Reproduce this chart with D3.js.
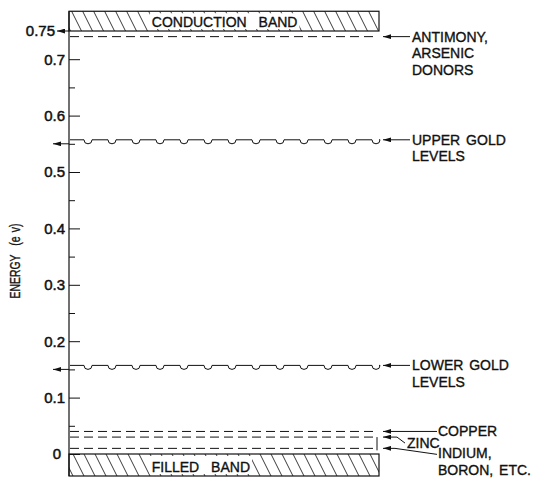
<!DOCTYPE html>
<html>
<head>
<meta charset="utf-8">
<script src="https://cdn.jsdelivr.net/npm/d3@7"></script>
<style>
    body { margin: 0; background: #fff; }
    svg { display: block; font-family: "Liberation Sans", Arial, sans-serif; }
    .tick text { font-size: 15px; fill: #111; stroke: #111; stroke-width: 0.5; }
    .lbl { font-size: 14px; fill: #111; stroke: #111; stroke-width: 0.35; word-spacing: 2px; }
</style>
</head>
<body>
<svg id="chart" width="535" height="479"></svg>
<script>
// energy levels in germanium (eV above top of filled band)
var tickValues = [0, 0.1, 0.2, 0.3, 0.4, 0.5, 0.6, 0.7];
var minorTicks = [0.05, 0.15, 0.25, 0.35, 0.45, 0.55, 0.65];
var conductionBand = [0.75, 0.785];
var filledBand = [-0.039, 0];

var dashedNames = ["ANTIMONY,|ARSENIC|DONORS", "COPPER", "ZINC", "INDIUM,|BORON, ETC."];
var dashedValues = [0.74, 0.04, 0.03, 0.01];

var goldNames = ["UPPER GOLD|LEVELS", "LOWER GOLD|LEVELS"];
var goldValues = [0.55, 0.15];

var svg = d3.select("#chart");

var y = d3.scaleLinear().domain([0, 0.75]).range([454, 31]);
var x = d3.scaleLinear().domain([0, 1]).range([69, 379]);

var defs = svg.append("defs");
defs.append("pattern")
    .attr("id", "hatch")
    .attr("patternUnits", "userSpaceOnUse")
    .attr("width", 11).attr("height", 22)
    .append("path")
    .attr("d", "M0,0L11,22M-11,0L0,22M11,0L22,22")
    .attr("stroke", "#222").attr("stroke-width", 0.9);
defs.append("marker")
    .attr("id", "arrow")
    .attr("viewBox", "0 0 10 6")
    .attr("refX", 10).attr("refY", 3)
    .attr("markerWidth", 8).attr("markerHeight", 5)
    .attr("markerUnits", "userSpaceOnUse")
    .attr("orient", "auto")
    .append("path").attr("d", "M0,0L10,3L0,6Z").attr("fill", "#111");

// bands
function band(vals, text, ty) {
    svg.append("rect")
        .attr("x", x(0)).attr("width", x(1) - x(0))
        .attr("y", y(vals[1])).attr("height", y(vals[0]) - y(vals[1]))
        .attr("fill", "url(#hatch)")
        .attr("stroke", "#111").attr("stroke-width", 1.2);
    var g = svg.append("g");
    var bg = g.append("rect").attr("fill", "#fff");
    var t = g.append("text").attr("class", "lbl")
        .attr("x", x(0.267)).attr("y", ty)
        .style("word-spacing", "8px")
        .text(text);
    var bb = t.node().getBBox();
    bg.attr("x", bb.x - 2).attr("width", bb.width + 4)
        .attr("y", y(vals[1]) + 2).attr("height", y(vals[0]) - y(vals[1]) - 4);
}
band(conductionBand, "CONDUCTION BAND", y(conductionBand[0]) - 4);
band(filledBand, "FILLED BAND", y(filledBand[1]) + 18);

// axis
var gy = svg.append("g").attr("transform", "translate(" + x(0) + ",0)");
gy.call(d3.axisLeft(y).tickValues(tickValues).tickSize(-11).tickSizeOuter(0).tickPadding(4)
    .tickFormat(function (d) { return d === 0 ? "0" : d3.format(".1f")(d); }));
gy.call(function (g) { g.select(".domain").remove(); });
gy.selectAll(".tick line").attr("stroke", "#111").attr("stroke-width", 1);
gy.selectAll(".tick text").attr("font-family", null).attr("font-size", null)
    .attr("dx", function (d) { return d === 0 ? -4 : 0; });
var gm = svg.append("g").attr("transform", "translate(" + x(0) + ",0)");
gm.call(d3.axisLeft(y).tickValues(minorTicks).tickSize(-6).tickSizeOuter(0).tickFormat(""));
gm.select(".domain").remove();
gm.selectAll(".tick line").attr("stroke", "#111");
svg.append("line")
    .attr("x1", x(0)).attr("x2", x(0))
    .attr("y1", y(conductionBand[1])).attr("y2", y(filledBand[0]))
    .attr("stroke", "#111").attr("stroke-width", 1.2);

// 0.75 label with arrow
svg.append("g").attr("class", "tick").append("text")
    .attr("x", x(0) - 14).attr("y", y(0.75)).attr("dy", "0.36em")
    .attr("text-anchor", "end").text("0.75");
function arrow(pts) {
    svg.append("path")
        .attr("d", d3.line()(pts))
        .attr("fill", "none").attr("stroke", "#111").attr("stroke-width", 1)
        .attr("marker-end", "url(#arrow)");
}
arrow([[x(0), y(0.75)], [x(0) - 12, y(0.75)]]);

function label(lines, lx, ly) {
    var t = svg.append("text").attr("class", "lbl").attr("x", lx).attr("y", ly);
    lines.split("|").forEach(function (s, i) {
        t.append("tspan").attr("x", lx).attr("dy", i ? 16.5 : 0).text(s);
    });
}

// dashed levels
dashedValues.forEach(function (v, i) {
    svg.append("line")
        .attr("x1", x(0) + 1).attr("x2", x(1) - 2)
        .attr("y1", y(v)).attr("y2", y(v))
        .attr("stroke", "#111").attr("stroke-width", 1)
        .attr("stroke-dasharray", "9,5");
});
var tip = x(1) + 4;
arrow([[x(1) + 31, y(dashedValues[0])], [tip, y(dashedValues[0])]]);
label(dashedNames[0], x(1) + 33, y(dashedValues[0]) + 5);
arrow([[x(1) + 58, y(dashedValues[1])], [tip, y(dashedValues[1])]]);
label(dashedNames[1], x(1) + 59, y(dashedValues[1]) + 5);
arrow([[x(1) + 26, y(dashedValues[2]) + 6], [x(1) + 18, y(dashedValues[2])], [tip, y(dashedValues[2])]]);
label(dashedNames[2], x(1) + 28, y(dashedValues[2]) + 11);
arrow([[x(1) + 58, y(dashedValues[3]) + 6], [x(1) + 16, y(dashedValues[3])], [tip, y(dashedValues[3])]]);
label(dashedNames[3], x(1) + 59, y(dashedValues[3]) + 10);
svg.append("line")
    .attr("x1", x(1) - 2).attr("x2", x(1) - 2)
    .attr("y1", y(dashedValues[2])).attr("y2", y(dashedValues[3]) + 2)
    .attr("stroke", "#111");

// gold levels (scalloped lines)
var dipCount = 13, r = 4;
goldValues.forEach(function (v, i) {
    var yf = y(v) - 4;
    var first = x(0) + 19, period = (x(1) - x(0) - 22) / (dipCount - 1);
    var p = d3.path();
    p.moveTo(x(0) + 1, yf);
    d3.range(dipCount).forEach(function (k) {
        var cx = first + k * period;
        p.lineTo(cx - r, yf);
        p.arc(cx, yf, r, Math.PI, 0, true);
    });
    p.lineTo(x(1), yf);
    svg.append("path").attr("d", p.toString())
        .attr("fill", "none").attr("stroke", "#111").attr("stroke-width", 1);
    arrow([[x(0), y(v)], [x(0) - 16, y(v)]]);
    arrow([[x(1) + 31, yf], [tip, yf]]);
    label(goldNames[i], x(1) + 33, yf + 5);
});

// y label
svg.append("text")
    .attr("class", "lbl")
    .attr("transform", "translate(20," + 261 + ")rotate(-90)")
    .attr("text-anchor", "middle")
    .attr("textLength", 75).attr("lengthAdjust", "spacingAndGlyphs")
    .style("font-size", "14px")
    .text("ENERGY\u00A0\u00A0(e\u00A0v)");
</script>
</body>
</html>
